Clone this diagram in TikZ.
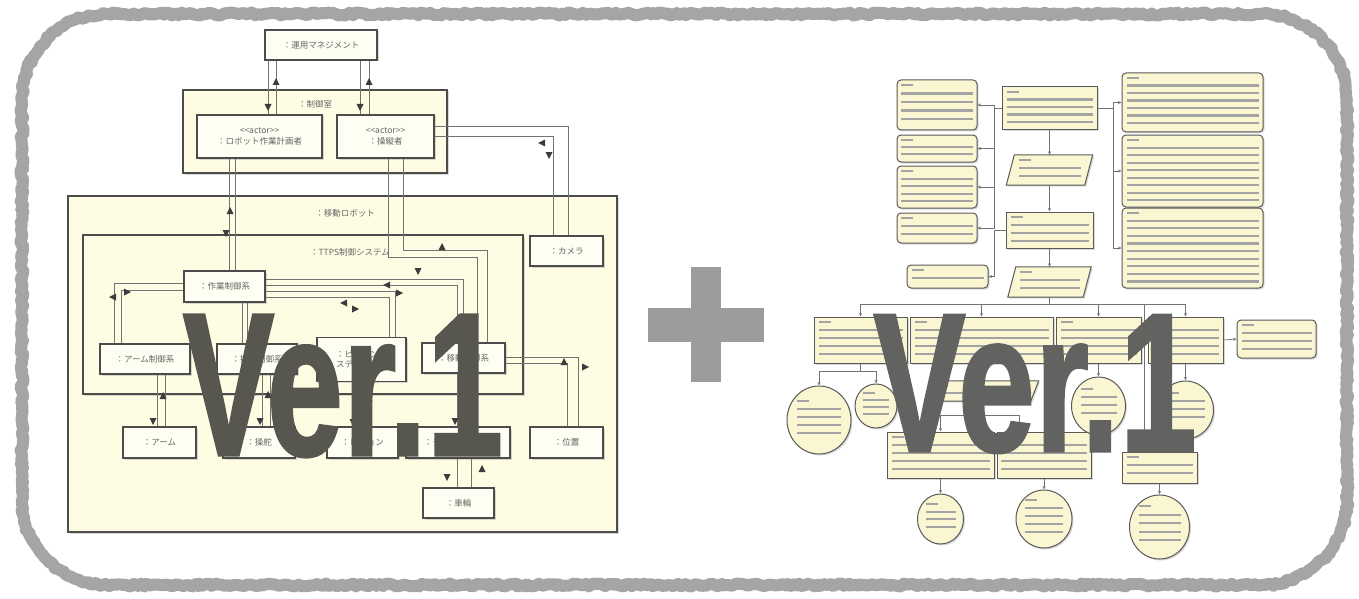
\documentclass[tikz,border=0pt]{standalone}
\usepackage{graphicx}
\usepackage{fontspec}
\setmainfont{Liberation Sans}
\newfontfamily\jp{Noto Sans CJK JP}
\newfontfamily\verfont[FakeBold=1.5]{Liberation Sans Bold}
\usetikzlibrary{calc,shadows,shapes.geometric,decorations.pathmorphing,arrows.meta}
\definecolor{framec}{HTML}{A3A6A5}
\definecolor{ylw}{HTML}{FEFDE4}
\definecolor{ylwbox}{HTML}{FFFEF2}
\definecolor{ylw2}{HTML}{FAF6D2}
\definecolor{mkc}{HTML}{3C3C3C}
\definecolor{verL}{HTML}{57574F}
\definecolor{verR}{HTML}{626260}
\definecolor{plusc}{HTML}{9C9C9C}
\newcommand\bars[5]{%
  \fill[tbar] ($(#1.center)+(-#2,#3)$) rectangle ($(#1.center)+(-#2+12,#3+2.2)$);
  \foreach \k in {1,...,#4}{\fill[tbar] ($(#1.center)+(-#2,#3+#5*\k)$) rectangle ($(#1.center)+(#2,#3+#5*\k+2.2)$);}%
}
\newcommand\parashape[1]{%
  \draw[rbox] (#1.south west) -- ($(#1.north west)+(8,0)$) -- (#1.north east) -- ($(#1.south east)+(-8,0)$) -- cycle;%
}
\tikzset{
  shd/.style={drop shadow={opacity=0.3,shadow xshift=1.5pt,shadow yshift=-1.5pt}},
  box/.style={shd, draw=black!70, line width=1.3pt, fill=ylwbox, inner sep=1pt, align=center,
    font=\jp\fontsize{8.5}{10.5}\selectfont, text=black!60},
  cont/.style={shd, draw=black!70, line width=1.5pt, fill=ylw, inner sep=0pt},
  lbl/.style={font=\jp\fontsize{8.5}{10.5}\selectfont, text=black!60, inner sep=1pt},
  cn/.style={draw=black!55, line width=0.9pt},
  rbox/.style={shd, draw=black!65, line width=1pt, fill=ylw2, inner sep=0pt},
  rrbox/.style={rbox, rounded corners=4pt},
  rpara/.style={inner sep=0pt},
  rcirc/.style={rbox, ellipse},
  tbar/.style={black!36},
  rl/.style={draw=black!55, line width=0.7pt},
  ra/.style={rl, -{Stealth[length=3.5pt,width=3pt]}},
  mku/.pic={\fill[mkc] (-3.5,3) -- (3.5,3) -- (0,-4) -- cycle;},
  mkd/.pic={\fill[mkc] (-3.5,-3) -- (3.5,-3) -- (0,4) -- cycle;},
  mkl/.pic={\fill[mkc] (3,-3.5) -- (3,3.5) -- (-4,0) -- cycle;},
  mkr/.pic={\fill[mkc] (-3,-3.5) -- (-3,3.5) -- (4,0) -- cycle;},
}
\begin{document}
\begin{tikzpicture}[x=1pt,y=-1pt]
\useasboundingbox (0,0) rectangle (1359,599);
\fill[white] (0,0) rectangle (1359,599);
% rough frame
\draw[framec, line width=12pt, line join=round, decorate, decoration={random steps, segment length=3pt, amplitude=1.5pt}]
  (22,99) -- (22,500) .. controls (22,547) and (60,585) .. (107,585) -- (1262,585)
  .. controls (1309,585) and (1347,547) .. (1347,500) -- (1347,99)
  .. controls (1347,52) and (1309,14) .. (1262,14) -- (107,14)
  .. controls (60,14) and (22,52) .. (22,99) -- cycle;

% ---------------- left diagram ----------------
\node[cont, minimum width=264pt, minimum height=83pt] (room) at (315,131.5) {};
\node[lbl] (roomL) at (315,104) {：制御室};
\node[cont, minimum width=549pt, minimum height=336pt] (robot) at (342.5,364) {};
\node[lbl] (robotL) at (345,213) {：移動ロボット};
\node[cont, minimum width=440pt, minimum height=159pt] (ttps) at (303,314.5) {};
\node[lbl] (ttpsL) at (350,252) {：TTPS制御システム};

\node[box, minimum width=112pt, minimum height=30pt] (mgmt) at (321,45) {：運用マネジメント};
\node[box, minimum width=125pt, minimum height=43pt] (planner) at (259.5,136.5) {{<}{<}actor{>}{>}\\：ロボット作業計画者};
\node[box, minimum width=97pt, minimum height=43pt] (pilot) at (385.5,136.5) {{<}{<}actor{>}{>}\\：操縦者};
\node[box, minimum width=73pt, minimum height=30pt] (camera) at (566.5,251) {：カメラ};
\node[box, minimum width=81pt, minimum height=31pt] (work) at (224.5,286.5) {：作業制御系};
\node[box, minimum width=90pt, minimum height=30pt] (armc) at (145,359) {：アーム制御系};
\node[box, minimum width=80pt, minimum height=30pt] (steerc) at (257,359) {：操舵制御系};
\node[box, minimum width=89pt, minimum height=44pt] (visc) at (361.5,359.5) {：ビジョンシ\\ステム制御系};
\node[box, minimum width=83pt, minimum height=30pt] (movc) at (463.5,358) {：移動制御系};
\node[box, minimum width=73pt, minimum height=31pt] (arm) at (159.5,442.5) {：アーム};
\node[box, minimum width=72pt, minimum height=31pt] (steer) at (259,442.5) {：操舵};
\node[box, minimum width=71pt, minimum height=31pt] (vision) at (362.5,442.5) {：ビジョン};
\node[box, minimum width=104pt, minimum height=31pt] (motor) at (458,442.5) {：モーター制御系};
\node[box, minimum width=73pt, minimum height=31pt] (pos) at (566.5,442.5) {：位置};
\node[box, minimum width=71pt, minimum height=30pt] (wheel) at (458.5,503) {：車輪};

% connectors (double lines)
\draw[cn] ($(planner.north)+(8.5,0)$) -- ($(mgmt.south)+(-53,0)$);
\draw[cn] ($(planner.north)+(16.5,0)$) -- ($(mgmt.south)+(-45,0)$);
\draw[cn] ($(pilot.north)+(-25.5,0)$) -- ($(mgmt.south)+(39,0)$);
\draw[cn] ($(pilot.north)+(-16.5,0)$) -- ($(mgmt.south)+(48,0)$);
\draw[cn] ($(planner.south)+(-30.5,0)$) -- ($(work.north)+(4.5,0)$);
\draw[cn] ($(planner.south)+(-24.5,0)$) -- ($(work.north)+(10.5,0)$);
\draw[cn] ($(pilot.south)+(2.5,0)$) |- ($(movc.north)+(13.5,-85)$) -- ($(movc.north)+(13.5,0)$);
\draw[cn] ($(pilot.south)+(17.5,0)$) |- ($(movc.north)+(23.5,-92)$) -- ($(movc.north)+(23.5,0)$);
\draw[cn] ($(work.east)+(0,-7.5)$) -| ($(movc.north)+(-0.5,0)$);
\draw[cn] ($(work.east)+(0,-1.5)$) -| ($(movc.north)+(-6.5,0)$);
\draw[cn] ($(work.east)+(0,4.5)$) -| ($(visc.north)+(33.5,0)$);
\draw[cn] ($(work.east)+(0,10.5)$) -| ($(visc.north)+(27.5,0)$);
\draw[cn] ($(work.west)+(0,-3.5)$) -| ($(armc.north)+(-31,0)$);
\draw[cn] ($(work.west)+(0,3.5)$) -| ($(armc.north)+(-24,0)$);
\draw[cn] ($(work.south)+(17.5,0)$) -- ($(steerc.north)+(-15,0)$);
\draw[cn] ($(work.south)+(22.5,0)$) -- ($(steerc.north)+(-10,0)$);
\draw[cn] ($(armc.south)+(12,0)$) -- ($(arm.north)+(-2.5,0)$);
\draw[cn] ($(armc.south)+(20,0)$) -- ($(arm.north)+(5.5,0)$);
\draw[cn] ($(steerc.south)+(5,0)$) -- ($(steer.north)+(3,0)$);
\draw[cn] ($(steerc.south)+(13,0)$) -- ($(steer.north)+(11,0)$);
\draw[cn] ($(visc.south)+(-6.5,0)$) -- ($(vision.north)+(-7.5,0)$);
\draw[cn] ($(visc.south)+(7.5,0)$) -- ($(vision.north)+(6.5,0)$);
\draw[cn] ($(movc.south)+(-6.5,0)$) -- ($(motor.north)+(-1,0)$);
\draw[cn] ($(movc.south)+(7.5,0)$) -- ($(motor.north)+(13,0)$);
\draw[cn] ($(motor.south)+(-1,0)$) -- ($(wheel.north)+(-1.5,0)$);
\draw[cn] ($(motor.south)+(13,0)$) -- ($(wheel.north)+(12.5,0)$);
\draw[cn] ($(movc.east)+(0,-1)$) -| ($(pos.north)+(11.5,0)$);
\draw[cn] ($(movc.east)+(0,5)$) -| ($(pos.north)+(0.5,0)$);
\draw[cn] ($(pilot.east)+(0,-10.5)$) -| ($(camera.north)+(1.5,0)$);
\draw[cn] ($(pilot.east)+(0,-0.5)$) -| ($(camera.north)+(-13.5,0)$);

% markers
\pic at (268,107) {mkd}; \pic at (276,82) {mku};
\pic at (360,107) {mkd}; \pic at (369,82) {mku};
\pic at (230,211) {mku}; \pic at (226,233) {mkd};
\pic at (113,297) {mkl}; \pic at (127,292) {mkr};
\pic at (344,303) {mkl}; \pic at (355,309) {mkr};
\pic at (387,285) {mkl}; \pic at (399,293) {mkr};
\pic at (418,271) {mkd}; \pic at (442,247) {mku};
\pic at (542,143) {mkl}; \pic at (549,155) {mkd};
\pic at (153,421) {mkd}; \pic at (163,396) {mku};
\pic at (260,421) {mkd}; \pic at (268,395) {mku};
\pic at (353,422) {mkd}; \pic at (369,398) {mku};
\pic at (455,421) {mkd}; \pic at (468,395) {mku};
\pic at (447,477) {mkd}; \pic at (482,469) {mku};
\pic at (564,362) {mku}; \pic at (585,367) {mkr};

% ---------------- right diagram ----------------
\node[rrbox, minimum width=80pt, minimum height=50pt] (R1) at (937,105) {};
\node[rrbox, minimum width=80pt, minimum height=27pt] (R2) at (937,148.5) {};
\node[rrbox, minimum width=80pt, minimum height=42pt] (R3) at (937,187) {};
\node[rrbox, minimum width=80pt, minimum height=30pt] (R4) at (937,228) {};
\node[rrbox, minimum width=81pt, minimum height=23pt] (R5) at (947.5,276.5) {};
\node[rbox, minimum width=95pt, minimum height=43pt] (R6) at (1049.5,108.5) {};
\node[rpara, minimum width=86pt, minimum height=30pt] (R7) at (1049.5,170) {};
\parashape{R7}
\node[rbox, minimum width=87pt, minimum height=36pt] (R8) at (1049.5,230) {};
\node[rpara, minimum width=83pt, minimum height=30pt] (R9) at (1049.5,282) {};
\parashape{R9}
\node[rrbox, minimum width=141pt, minimum height=59pt] (R10) at (1192.5,102.5) {};
\node[rrbox, minimum width=141pt, minimum height=72pt] (R11) at (1192.5,171) {};
\node[rrbox, minimum width=141pt, minimum height=80pt] (R12) at (1192.5,248) {};
\node[rbox, minimum width=93pt, minimum height=46pt] (R13) at (860.5,340) {};
\node[rbox, minimum width=143pt, minimum height=46pt] (R14) at (981.5,340) {};
\node[rbox, minimum width=85pt, minimum height=46pt] (R15) at (1098.5,340) {};
\node[rbox, minimum width=75pt, minimum height=46pt] (R16) at (1185.5,340) {};
\node[rrbox, minimum width=79pt, minimum height=38pt] (R17) at (1276.5,339) {};
\node[rpara, minimum width=114pt, minimum height=20pt] (R18) at (981.5,391) {};
\parashape{R18}
\node[rbox, minimum width=107pt, minimum height=46pt] (R19a) at (940.5,455) {};
\node[rbox, minimum width=94pt, minimum height=46pt] (R19b) at (1044,455) {};
\node[rbox, minimum width=75pt, minimum height=31pt] (R20) at (1159.5,467.5) {};
\node[rcirc, minimum width=64pt, minimum height=68pt] (c1) at (819,420) {};
\node[rcirc, minimum width=42pt, minimum height=44pt] (c2) at (876,406) {};
\node[rcirc, minimum width=54pt, minimum height=58pt] (c3) at (1098.5,406) {};
\node[rcirc, minimum width=56pt, minimum height=58pt] (c4) at (1185.5,410) {};
\node[rcirc, minimum width=46pt, minimum height=50pt] (c5) at (940.5,519) {};
\node[rcirc, minimum width=56pt, minimum height=58pt] (c6) at (1044,519) {};
\node[rcirc, minimum width=60pt, minimum height=64pt] (c7) at (1159.5,527) {};

% blurred text lines
\bars{R1}{36}{-21}{4}{8.5}
\bars{R2}{36}{-9.5}{2}{7}
\bars{R3}{36}{-17}{4}{7.5}
\bars{R4}{36}{-11}{2}{8}
\bars{R5}{36}{-7.5}{1}{8}
\bars{R6}{43}{-17.5}{4}{7.5}
\bars{R7}{31}{-11}{2}{8}
\bars{R8}{39}{-14}{3}{8}
\bars{R9}{30}{-11}{2}{8}
\bars{R10}{66}{-25.5}{6}{7.5}
\bars{R11}{66}{-32}{8}{7.5}
\bars{R12}{66}{-36}{9}{7.6}
\bars{R13}{42}{-19}{4}{8}
\bars{R14}{67}{-19}{4}{8}
\bars{R15}{38}{-19}{4}{8}
\bars{R16}{33}{-19}{4}{8}
\bars{R17}{35}{-15}{3}{8}
\bars{R18}{46}{-6}{1}{7}
\bars{R19a}{49}{-19}{4}{8}
\bars{R19b}{43}{-19}{4}{8}
\bars{R20}{33}{-11.5}{2}{8}
\bars{c1}{22}{-20}{4}{8}
\bars{c2}{13}{-14}{3}{7}
\bars{c3}{18}{-18}{3}{8}
\bars{c4}{19}{-18}{3}{8}
\bars{c5}{15}{-16}{3}{7.5}
\bars{c6}{19}{-20}{4}{8}
\bars{c7}{21}{-22}{4}{8.5}

% right connectors
\draw[rl] (R6.west) -- ($(R6.west)+(-7,0)$) coordinate (lb);
\foreach \t in {R1,R2,R3,R4} \draw[ra] (lb) |- (\t.east);
\draw[rl] (R6.east) -- ($(R6.east)+(16,0)$) coordinate (rb);
\foreach \t in {R10,R11,R12} \draw[ra] (rb) |- (\t.west);
\draw[ra] (R6.south) -- (R7.north);
\draw[ra] (R7.south) -- (R8.north);
\draw[ra] (R8.south) -- (R9.north);
\draw[rl] (R8.west) -- ($(R8.west)+(-11,0)$) coordinate (lb2);
\draw[ra] (lb2) |- (R5.east);
\draw[rl] (R9.south) -- ($(R9.south)+(0,7)$) coordinate (hb);
\foreach \t in {R13,R14,R15,R16} \draw[ra] (hb) -| (\t.north);
\draw[ra] (hb) -| ($(R20.north)+(-15.5,0)$);
\draw[ra] (R16.east) -- (R17.west);
\draw[rl] (R13.south) -- ($(R13.south)+(0,8)$) coordinate (t13);
\draw[ra] (t13) -| (c1.north);
\draw[ra] (t13) -| (c2.north);
\draw[ra] (R14.south) -- (R18.north);
\draw[rl] (R18.south) -- ($(R18.south)+(0,14)$) coordinate (t18);
\draw[ra] (t18) -| (R19a.north);
\draw[ra] (t18) -| ($(R19b.north)+(-25,0)$);
\draw[ra] (R15.south) -- (c3.north);
\draw[ra] (R16.south) -- (c4.north);
\draw[ra] (R19a.south) -- (c5.north);
\draw[ra] (R19b.south) -- (c6.north);
\draw[ra] (R20.south) -- (c7.north);

% ---------------- overlays ----------------
\fill[plusc] (691,267) rectangle (721,382);
\fill[plusc] (648,308) rectangle (764,342);
\node[text=verL, inner sep=0pt] (v1) at (343,386) {\resizebox{320pt}{140pt}{\verfont Ver.1}};
\node[text=verR, inner sep=0pt] (v2) at (1035,384) {\resizebox{323pt}{136pt}{\verfont Ver.1}};
\end{tikzpicture}
\end{document}
